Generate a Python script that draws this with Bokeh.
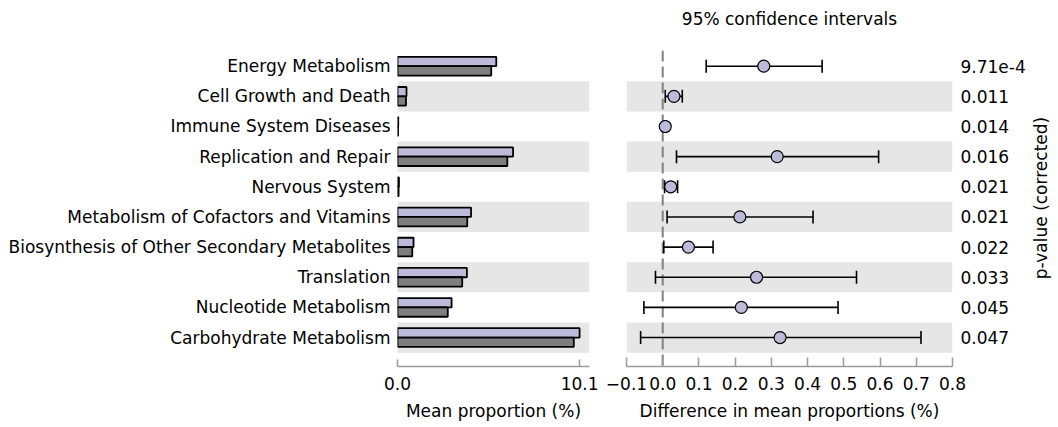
from bokeh.plotting import figure
from bokeh.layouts import row
from bokeh.models import (ColumnDataSource, Range1d, FixedTicker, Whisker, TeeHead, Span, Title)
from bokeh.transform import dodge
from bokeh.embed import file_html
from bokeh.resources import INLINE

# KEGG level-2 pathways, listed top to bottom
categories = [
    "Energy Metabolism",
    "Cell Growth and Death",
    "Immune System Diseases",
    "Replication and Repair",
    "Nervous System",
    "Metabolism of Cofactors and Vitamins",
    "Biosynthesis of Other Secondary Metabolites",
    "Translation",
    "Nucleotide Metabolism",
    "Carbohydrate Metabolism",
]
# mean proportions (%) of the two groups
group1_mean = [5.48, 0.50, 0.04, 6.41, 0.08, 4.08, 0.89, 3.85, 3.00, 10.10]
group2_mean = [5.20, 0.47, 0.03, 6.09, 0.06, 3.87, 0.82, 3.59, 2.79, 9.78]
# difference in mean proportions with 95% confidence interval
diff = [0.279, 0.031, 0.007, 0.316, 0.022, 0.213, 0.071, 0.259, 0.217, 0.324]
ci_low = [0.120, 0.007, 0.004, 0.038, 0.005, 0.012, 0.003, -0.020, -0.052, -0.061]
ci_high = [0.440, 0.054, 0.010, 0.596, 0.041, 0.415, 0.139, 0.535, 0.484, 0.713]
p_values = ["9.71e-4", "0.011", "0.014", "0.016", "0.021", "0.021", "0.022", "0.033", "0.045", "0.047"]

mean_ticks = [0.0, 10.1]
mean_tick_labels = ["0.0", "10.1"]
diff_ticks = [-0.1, 0.0, 0.1, 0.2, 0.3, 0.4, 0.5, 0.6, 0.7, 0.8]
diff_tick_labels = ["\u22120.1", "0.0", "0.1", "0.2", "0.3", "0.4", "0.5", "0.6", "0.7", "0.8"]

FONT = "DejaVu Sans"
FS = "17px"
C1 = "#bebada"
C2 = "#7f7f7f"
BAND = "#e6e6e6"
AXIS_C = "#9a9a9a"

n = len(categories)
ypos = [n - 1 - i for i in range(n)]
src = ColumnDataSource(dict(y=ypos, cat=categories, g1=group1_mean, g2=group2_mean,
                            diff=diff, lo=ci_low, hi=ci_high))
band_rows = [y for y in ypos if y % 2 == 0]
row_ticks = FixedTicker(ticks=ypos)


def style_common(p):
    p.outline_line_color = None
    p.xgrid.visible = False
    p.ygrid.visible = False
    p.background_fill_color = "white"
    p.border_fill_color = "white"
    ax = p.xaxis[0]
    ax.axis_line_color = AXIS_C
    ax.axis_line_width = 1.5
    ax.major_tick_line_color = AXIS_C
    ax.major_tick_line_width = 1.5
    ax.major_tick_out = 0
    ax.minor_tick_line_color = None
    ax.major_label_text_font = FONT
    ax.major_label_text_font_size = FS
    ax.major_label_text_color = "black"
    ax.major_label_standoff = 10
    ax.axis_label_text_font = FONT
    ax.axis_label_text_font_size = FS
    ax.axis_label_text_font_style = "normal"
    ax.axis_label_text_color = "black"
    ax.axis_label_standoff = 8


# ---- left panel: mean proportions ----
yr1 = Range1d(-0.96, 9.52)
left = figure(width=600, height=427, x_range=Range1d(0, 10.65), y_range=yr1,
              output_backend="svg", toolbar_location=None,
              min_border_left=397, min_border_right=11, min_border_top=50, min_border_bottom=61)
style_common(left)
left.hbar(y=band_rows, height=1.0, left=left.x_range.start, right=left.x_range.end,
          fill_color=BAND, line_color=None, level="image")
left.hbar(y=dodge("y", 0.155, range=yr1), right="g1", left=0, height=0.31, source=src,
          fill_color=C1, line_color="black", line_width=1.8)
left.hbar(y=dodge("y", -0.155, range=yr1), right="g2", left=0, height=0.31, source=src,
          fill_color=C2, line_color="black", line_width=1.8)
xa = left.xaxis[0]
xa.ticker = FixedTicker(ticks=mean_ticks)
xa.major_label_overrides = dict(zip(mean_ticks, mean_tick_labels))
xa.major_tick_in = 7
xa.axis_label = "Mean proportion (%)"
ya = left.yaxis[0]
ya.ticker = row_ticks
ya.major_label_overrides = dict(zip(ypos, categories))
ya.axis_line_color = None
ya.major_tick_line_color = None
ya.minor_tick_line_color = None
ya.major_tick_in = 0
ya.major_tick_out = 0
ya.major_label_standoff = 7
ya.major_label_text_font = FONT
ya.major_label_text_font_size = FS
ya.major_label_text_color = "black"

# ---- right panel: difference in mean proportions ----
yr2 = Range1d(-0.96, 9.52)
right = figure(width=428, height=427, x_range=Range1d(-0.1, 0.8), y_range=yr2,
               y_axis_location="right", output_backend="svg", toolbar_location=None,
               min_border_left=26, min_border_right=74, min_border_top=50, min_border_bottom=61,
               title="95% confidence intervals")
style_common(right)
right.title.align = "center"
right.title.vertical_align = "top"
right.title.text_font = FONT
right.title.text_font_size = FS
right.title.text_font_style = "normal"
right.title.text_color = "black"
right.title.standoff = 0
right.title.padding = dict(left=0, right=0, top=0, bottom=20)
right.hbar(y=band_rows, height=1.0, left=right.x_range.start, right=right.x_range.end,
           fill_color=BAND, line_color=None, level="image")
zero = Span(location=0, dimension="height", line_color="#808080", line_width=2,
            line_dash="11 5", level="underlay")
right.add_layout(zero)
ci = Whisker(source=src, base="y", lower="lo", upper="hi", dimension="width",
             line_color="black", line_width=1.6, level="underlay",
             lower_head=TeeHead(size=13, line_color="black", line_width=1.6),
             upper_head=TeeHead(size=13, line_color="black", line_width=1.6))
right.add_layout(ci)
right.scatter(x="diff", y="y", source=src, size=12, fill_color=C1, line_color="black",
              line_width=1.2)
xb = right.xaxis[0]
xb.ticker = FixedTicker(ticks=diff_ticks)
xb.major_label_overrides = dict(zip(diff_ticks, diff_tick_labels))
xb.major_tick_in = 9
xb.axis_label = "Difference in mean proportions (%)"
yb = right.yaxis[0]
yb.ticker = row_ticks
yb.major_label_overrides = dict(zip(ypos, p_values))
yb.axis_line_color = None
yb.major_tick_line_color = None
yb.minor_tick_line_color = None
yb.major_tick_in = 0
yb.major_tick_out = 0
yb.major_label_standoff = 8
yb.major_label_text_font = FONT
yb.major_label_text_font_size = FS
yb.major_label_text_color = "black"

# ---- narrow strip carrying the p-value caption, reading bottom to top ----
cap = figure(width=30, height=406, output_backend="svg", toolbar_location=None,
             x_axis_location=None, y_axis_location=None,
             min_border_left=0, min_border_right=0, min_border_top=0, min_border_bottom=0)
cap.outline_line_color = None
cap.xgrid.visible = False
cap.ygrid.visible = False
cap.add_layout(Title(text="p-value (corrected)", align="center", standoff=0,
                     text_font=FONT, text_font_size=FS, text_font_style="normal",
                     text_color="black"), "left")

layout = row(left, right, cap)
open("out.html", "w").write(file_html(layout, INLINE))
